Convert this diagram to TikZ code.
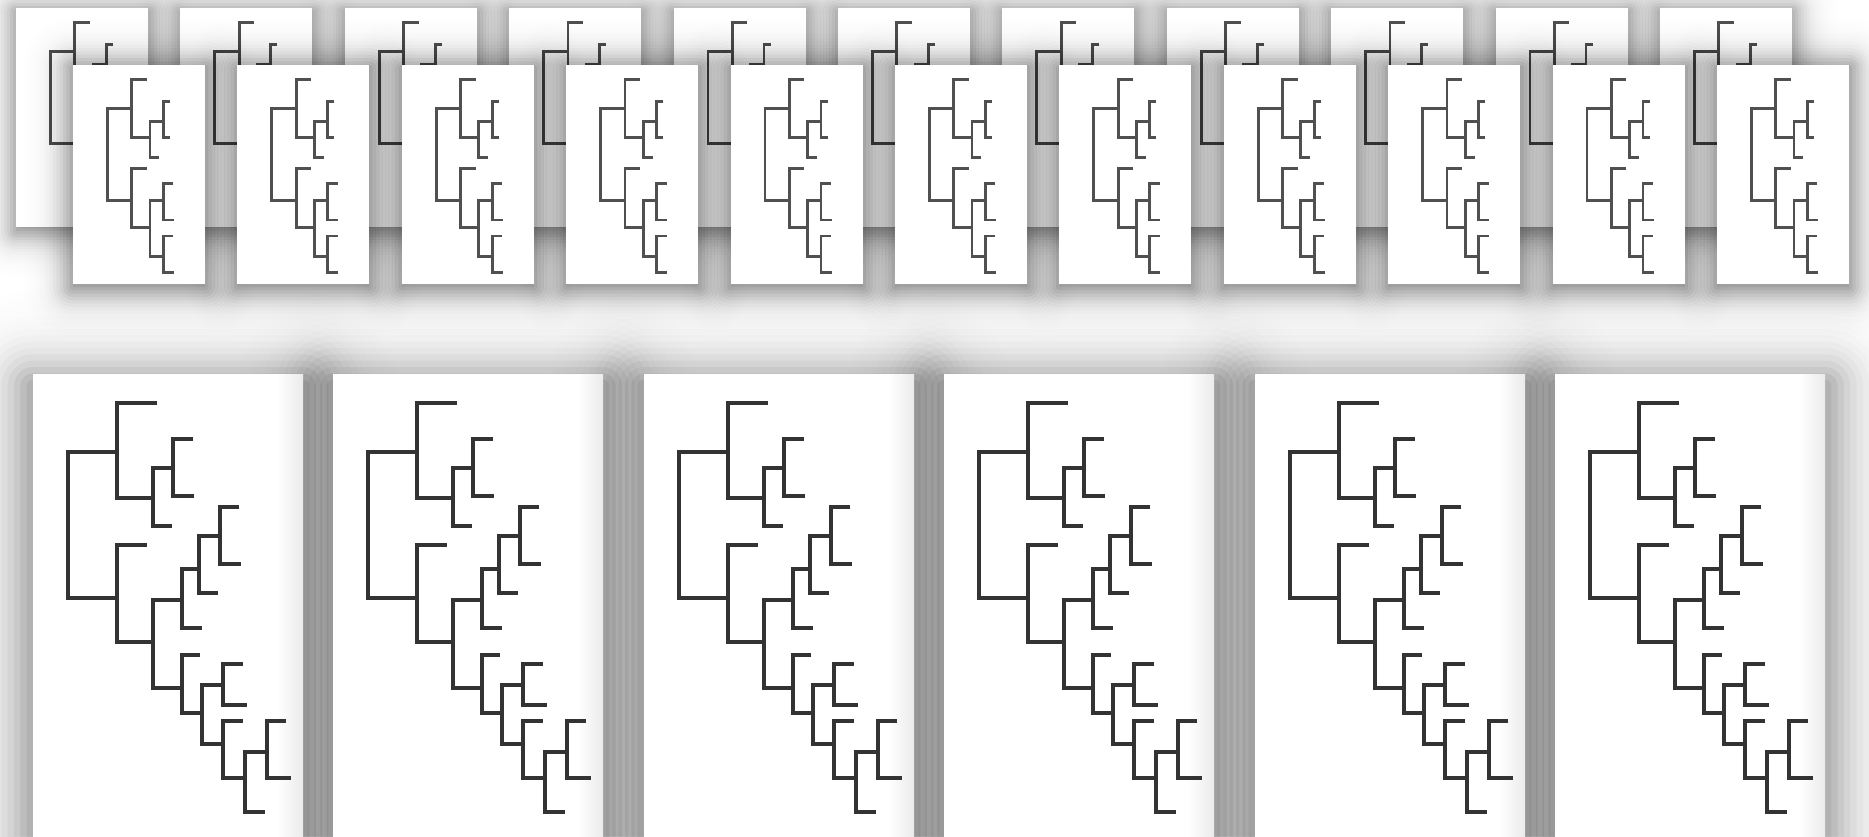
\documentclass[tikz,border=0pt]{standalone}
\definecolor{bigink}{HTML}{333333}
\definecolor{smallink}{HTML}{505050}
% soft (gaussian-like) shadow: x, y, w, h, sigma, downward shift, peak opacity
\newcommand\cardshade[7]{%
  \foreach \k in {0,...,23}{%
    \pgfmathsetmacro\shr{#5*(\k/6-1)}%
    \pgfmathsetmacro\shta{#7/(1+exp(1.702*(\shr)/#5))}%
    \pgfmathsetmacro\shtb{#7/(1+exp(1.702*((\shr)+#5/6)/#5))}%
    \pgfmathsetmacro\shop{1-(1-\shta)/(1-\shtb)}%
    \pgfmathsetmacro\shrc{max(\shr,0.1)}%
    \fill[black, opacity=\shop, rounded corners=\shrc pt]
      ({#1-(\shr)},{#2-(\shr)+#6}) rectangle ({#1+#3+(\shr)},{#2+#4+(\shr)+#6});
  }}
\tikzset{
  bigcard/.style={fill=white, draw=none, inner sep=0pt, outer sep=0pt, minimum width=270pt, minimum height=500pt, anchor=north west},
  smallcard/.style={fill=white, draw=none, inner sep=0pt, outer sep=0pt, minimum width=132pt, minimum height=219pt, anchor=north west},
  bigline/.style={draw=bigink, line width=4.2pt, line join=miter},
  smallline/.style={draw=smallink, line width=2.8pt, line join=miter},
  bigtree/.pic={
    \path[bigline] (83.7,77.7) -- (35.3,77.7) -- (35.3,224.3) -- (83.7,224.3);
    \path[bigline] (123.7,29.3) -- (83.7,29.3) -- (83.7,124.3) -- (119.7,124.3);
    \path[bigline] (140.3,94.3) -- (119.7,94.3) -- (119.7,151.7) -- (138.7,151.7);
    \path[bigline] (159.7,65.3) -- (140.3,65.3) -- (140.3,122) -- (161.3,122);
    \path[bigline] (113.7,171) -- (83.7,171) -- (83.7,267.7) -- (119.7,267.7);
    \path[bigline] (148.7,226) -- (119.7,226) -- (119.7,313.7) -- (148.7,313.7);
    \path[bigline] (166.3,195.3) -- (148.7,195.3) -- (148.7,254.3) -- (168.7,254.3);
    \path[bigline] (187,161.7) -- (166.3,161.7) -- (166.3,219.3) -- (185.3,219.3);
    \path[bigline] (206.3,132.7) -- (187,132.7) -- (187,190) -- (207.7,190);
    \path[bigline] (167,281) -- (148.7,281) -- (148.7,339.3) -- (168.7,339.3);
    \path[bigline] (189.7,311) -- (168.7,311) -- (168.7,370.3) -- (189.7,370.3);
    \path[bigline] (209.7,290) -- (189.7,290) -- (189.7,331) -- (214.3,331);
    \path[bigline] (209.7,346.7) -- (189.7,346.7) -- (189.7,403.7) -- (212,403.7);
    \path[bigline] (233.7,377.7) -- (212,377.7) -- (212,437.7) -- (232,437.7);
    \path[bigline] (253,346.7) -- (233.7,346.7) -- (233.7,403.7) -- (257.7,403.7);
  },
  smalltree/.pic={
    \path[smallline] (58.7,43.3) -- (34.3,43.3) -- (34.3,135.7) -- (58.7,135.7);
    \path[smallline] (73.7,14.3) -- (58.7,14.3) -- (58.7,72.3) -- (77,72.3);
    \path[smallline] (90.3,56.7) -- (77,56.7) -- (77,92.7) -- (86.3,92.7);
    \path[smallline] (97,36.7) -- (90.3,36.7) -- (90.3,72.3) -- (97,72.3);
    \path[smallline] (73.7,103.3) -- (58.7,103.3) -- (58.7,162.3) -- (77,162.3);
    \path[smallline] (90.3,135.7) -- (77,135.7) -- (77,191.7) -- (90.3,191.7);
    \path[smallline] (100.3,118.3) -- (90.3,118.3) -- (90.3,155) -- (101,155);
    \path[smallline] (100.3,171) -- (90.3,171) -- (90.3,207.7) -- (101,207.7);
  }
}
\begin{document}
\begin{tikzpicture}[x=1pt,y=-1pt]
  \useasboundingbox (0,0) rectangle (1869,836);
  \clip (0,0) rectangle (1869,836);
  \fill[white] (0,0) rectangle (1869,836);
  % back row of small cards
  \foreach \i in {0,...,10} {
    \cardshade{16+164.4*\i}{8}{132}{219}{18}{4}{0.6}
  }
  \foreach \i in {0,...,10} {
    \node[smallcard] (b\i) at ({16+164.4*\i},8) {};
    \pic at (b\i.north west) {smalltree};
  }
  % front row of small cards
  \foreach \i in {0,...,10} {
    \cardshade{73+164.4*\i}{65}{132}{219}{20}{3}{0.7}
  }
  \foreach \i in {0,...,10} {
    \node[smallcard] (f\i) at ({73+164.4*\i},65) {};
    \pic at (f\i.north west) {smalltree};
  }
  % large cards
  \foreach \x in {33,333,644,944,1255,1555} {
    \cardshade{\x}{374}{270}{500}{38}{12}{0.66}
  }
  \foreach \n/\x in {1/33,2/333,3/644,4/944,5/1255,6/1555} {
    \node[bigcard] (c\n) at (\x,374) {};
    \shade[left color=white, right color=black!8] ([xshift=-26pt]c\n.north east) rectangle (c\n.south east);
    \pic at (c\n.north west) {bigtree};
  }
\end{tikzpicture}
\end{document}
